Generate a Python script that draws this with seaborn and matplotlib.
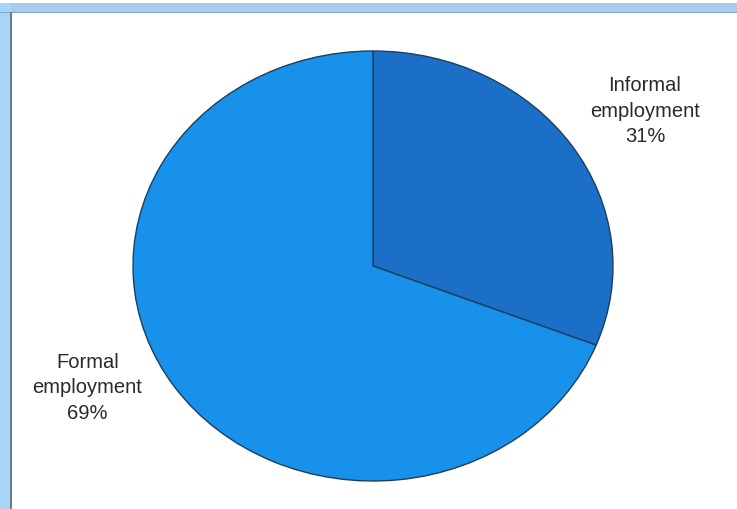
import matplotlib
matplotlib.use("Agg")
import matplotlib.pyplot as plt
import matplotlib.patches as mpatches
import seaborn as sns

# Employment split
categories = ["Informal\nemployment", "Formal\nemployment"]
shares = [31, 69]
palette = sns.color_palette(["#1b6fc6", "#1791ea"])

sns.set_theme(style="white")
plt.rcParams["font.family"] = ["Liberation Sans", "DejaVu Sans"]

W, H = 737, 509
fig = plt.figure(figsize=(W / 100, H / 100), dpi=100)
fig.patch.set_facecolor("white")

# window-style frame along the top and left edges
fig.patches.append(mpatches.Rectangle((0, (H - 13) / H), 1, 10 / H, transform=fig.transFigure,
                                      facecolor="#a6cdec", edgecolor="none", zorder=0))
fig.patches.append(mpatches.Rectangle((0, (H - 13) / H), 1, 1.5 / H, transform=fig.transFigure,
                                      facecolor="#7fa9cf", edgecolor="none", zorder=1))
fig.patches.append(mpatches.Rectangle((0, 0), 10 / W, (H - 3) / H, transform=fig.transFigure,
                                      facecolor="#a9d4f6", edgecolor="none", zorder=0))
fig.patches.append(mpatches.Rectangle((10 / W, 0), 1.8 / W, (H - 12) / H, transform=fig.transFigure,
                                      facecolor="#5f7f99", edgecolor="none", zorder=1))

# elliptical pie: horizontal radius 240 px, vertical radius 215 px, centre (373, 266)
cx, cy, rx, ry = 373, 266, 240, 215
pad = 1.1
ax = fig.add_axes([(cx - rx * pad) / W, (H - cy - ry * pad) / H,
                   2 * rx * pad / W, 2 * ry * pad / H])
wedges, _ = ax.pie(shares, colors=palette, startangle=90, counterclock=False,
                   wedgeprops=dict(edgecolor="#1d3f5e", linewidth=1.0))
ax.set_aspect("auto")
ax.set_xlim(-pad, pad)
ax.set_ylim(-pad, pad)
ax.axis("off")

label_pos = [(1.133, 0.72), (-1.19, -0.567)]
for cat, val, (x, y) in zip(categories, shares, label_pos):
    ax.text(x, y, f"{cat}\n{val}%", ha="center", va="center", fontsize=14.5,
            color="#2a2a2a", linespacing=1.42, clip_on=False)

fig.savefig("out.png", dpi=100, facecolor="white")
